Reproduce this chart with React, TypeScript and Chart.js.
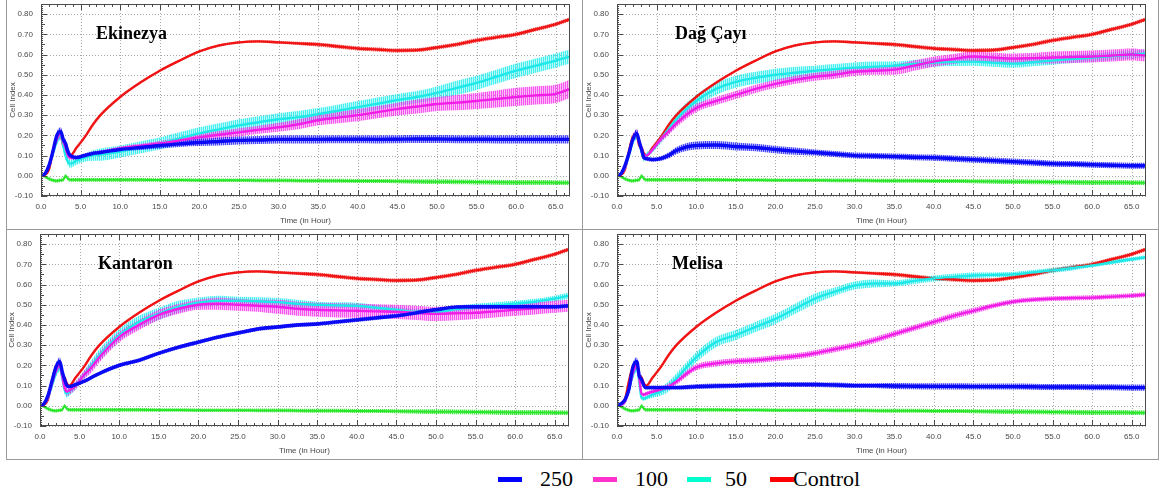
import React, { useEffect, useRef } from "react";
import { Chart, registerables } from "chart.js";

Chart.register(...registerables);

// ---------------- data ----------------
const TIME_H = [
  0, 0.5, 1, 1.5, 2,
  2.5, 2.8, 3.1, 3.4, 3.7,
  4.5, 5.5, 6.5, 7.5,
  10, 12.5, 15, 17.5, 20, 22.5, 25, 27.5, 30, 32.5,
  35, 37.5, 40, 42.5, 45, 47.5, 50, 52.5, 55, 57.5,
  60, 62.5, 65, 66.8,
];

const X_TICK_STEP = 5;
const Y_TICK_STEP = 0.1;

// Control (red) — same wells in every panel
const CONTROL = [
  0, 0.005, 0.03, 0.12, 0.19,
  0.2, 0.15, 0.14, 0.11, 0.1,
  0.14, 0.19, 0.25, 0.3,
  0.39, 0.46, 0.52, 0.57, 0.615, 0.645, 0.66, 0.665, 0.66, 0.655,
  0.65, 0.64, 0.63, 0.625, 0.62, 0.622, 0.635, 0.65, 0.67, 0.685,
  0.7, 0.725, 0.75, 0.775,
];
const CONTROL_ERR = [
  0, 0.003, 0.01, 0.02, 0.02,
  0.015, 0.01, 0.01, 0.008, 0.005,
  0.005, 0.005, 0.005, 0.005,
  0.005, 0.005, 0.005, 0.005, 0.005, 0.006, 0.006, 0.006, 0.007, 0.008,
  0.01, 0.01, 0.01, 0.01, 0.01, 0.01, 0.01, 0.01, 0.01, 0.01,
  0.01, 0.01, 0.01, 0.01,
];

// Medium only (green)
const MEDIUM = [
  0, -0.005, -0.015, -0.022, -0.025,
  -0.022, -0.02, 0, -0.015, -0.02,
  -0.02, -0.02, -0.02, -0.02,
  -0.02, -0.02, -0.021, -0.021, -0.022, -0.022, -0.022, -0.023, -0.023, -0.024,
  -0.025, -0.025, -0.026, -0.026, -0.027, -0.028, -0.029, -0.03, -0.031, -0.032,
  -0.033, -0.033, -0.034, -0.035,
];
const MEDIUM_ERR = [
  0, 0.005, 0.009, 0.009, 0.009,
  0.009, 0.009, 0.009, 0.009, 0.009,
  0.009, 0.009, 0.009, 0.009,
  0.009, 0.009, 0.009, 0.009, 0.009, 0.009, 0.009, 0.009, 0.009, 0.009,
  0.01, 0.01, 0.01, 0.01, 0.01, 0.011, 0.012, 0.012, 0.012, 0.012,
  0.012, 0.012, 0.012, 0.012,
];

// Ekinezya
const EKINEZYA_250 = [
  0, 0.01, 0.05, 0.12, 0.2,
  0.22, 0.18, 0.16, 0.12, 0.1,
  0.09, 0.1, 0.11, 0.115,
  0.13, 0.14, 0.15, 0.158, 0.165, 0.17, 0.175, 0.177, 0.18, 0.18,
  0.18, 0.181, 0.181, 0.18, 0.181, 0.182, 0.182, 0.181, 0.181, 0.18,
  0.18, 0.18, 0.18, 0.18,
];
const EKINEZYA_250_ERR = [
  0, 0.005, 0.01, 0.02, 0.02,
  0.02, 0.02, 0.02, 0.02, 0.015,
  0.01, 0.01, 0.01, 0.01,
  0.01, 0.012, 0.015, 0.015, 0.018, 0.02, 0.02, 0.02, 0.02, 0.02,
  0.02, 0.02, 0.02, 0.02, 0.02, 0.02, 0.02, 0.02, 0.02, 0.02,
  0.02, 0.02, 0.02, 0.02,
];
const EKINEZYA_100 = [
  0, 0.01, 0.05, 0.12, 0.18,
  0.21, 0.17, 0.14, 0.1, 0.09,
  0.09, 0.1, 0.11, 0.115,
  0.135, 0.148, 0.16, 0.175, 0.19, 0.203, 0.215, 0.228, 0.24, 0.255,
  0.275, 0.288, 0.3, 0.315, 0.33, 0.343, 0.355, 0.362, 0.37, 0.38,
  0.39, 0.398, 0.405, 0.43,
];
const EKINEZYA_100_ERR = [
  0, 0.005, 0.01, 0.02, 0.02,
  0.02, 0.02, 0.02, 0.015, 0.01,
  0.01, 0.01, 0.01, 0.01,
  0.01, 0.01, 0.012, 0.015, 0.015, 0.018, 0.02, 0.02, 0.022, 0.025,
  0.025, 0.028, 0.03, 0.03, 0.032, 0.035, 0.035, 0.038, 0.04, 0.042,
  0.045, 0.045, 0.045, 0.045,
];
const EKINEZYA_50 = [
  0, 0.01, 0.05, 0.11, 0.17,
  0.2, 0.15, 0.1, 0.07, 0.06,
  0.075, 0.09, 0.1, 0.105,
  0.12, 0.14, 0.16, 0.185, 0.21, 0.23, 0.25, 0.265, 0.28, 0.29,
  0.305, 0.322, 0.34, 0.357, 0.375, 0.39, 0.41, 0.435, 0.46, 0.49,
  0.52, 0.545, 0.57, 0.59,
];
const EKINEZYA_50_ERR = [
  0, 0.005, 0.01, 0.02, 0.02,
  0.02, 0.02, 0.02, 0.02, 0.02,
  0.02, 0.02, 0.025, 0.03,
  0.03, 0.03, 0.03, 0.03, 0.03, 0.03, 0.03, 0.03, 0.03, 0.03,
  0.03, 0.03, 0.03, 0.03, 0.03, 0.03, 0.032, 0.035, 0.035, 0.035,
  0.035, 0.035, 0.035, 0.035,
];

// Dağ Çayı
const DAG_250 = [
  0, 0.01, 0.05, 0.11, 0.18,
  0.21, 0.17, 0.13, 0.09, 0.085,
  0.08, 0.085, 0.1, 0.125,
  0.15, 0.152, 0.145, 0.14, 0.13, 0.122, 0.115, 0.108, 0.1, 0.098,
  0.095, 0.092, 0.09, 0.085, 0.08, 0.075, 0.07, 0.065, 0.06, 0.058,
  0.055, 0.052, 0.05, 0.05,
];
const DAG_250_ERR = [
  0, 0.005, 0.01, 0.02, 0.02,
  0.02, 0.02, 0.015, 0.01, 0.01,
  0.01, 0.012, 0.015, 0.018,
  0.02, 0.02, 0.02, 0.018, 0.018, 0.018, 0.015, 0.015, 0.015, 0.015,
  0.015, 0.015, 0.015, 0.015, 0.015, 0.015, 0.015, 0.015, 0.015, 0.015,
  0.015, 0.015, 0.015, 0.015,
];
const DAG_100 = [
  0, 0.01, 0.04, 0.11, 0.18,
  0.21, 0.17, 0.13, 0.1, 0.1,
  0.13, 0.18, 0.22, 0.26,
  0.335, 0.37, 0.4, 0.43, 0.455, 0.475, 0.49, 0.5, 0.515, 0.52,
  0.525, 0.545, 0.565, 0.578, 0.59, 0.585, 0.58, 0.582, 0.585, 0.588,
  0.59, 0.595, 0.6, 0.595,
];
const DAG_100_ERR = [
  0, 0.005, 0.01, 0.02, 0.02,
  0.02, 0.02, 0.02, 0.015, 0.01,
  0.01, 0.015, 0.02, 0.02,
  0.02, 0.02, 0.02, 0.02, 0.02, 0.02, 0.02, 0.02, 0.02, 0.02,
  0.025, 0.025, 0.025, 0.025, 0.025, 0.025, 0.025, 0.025, 0.03, 0.03,
  0.03, 0.03, 0.03, 0.03,
];
const DAG_50 = [
  0, 0.01, 0.04, 0.1, 0.17,
  0.2, 0.17, 0.12, 0.09, 0.1,
  0.13, 0.18, 0.23, 0.28,
  0.37, 0.43, 0.465, 0.485, 0.5, 0.51, 0.52, 0.528, 0.535, 0.54,
  0.545, 0.553, 0.56, 0.563, 0.565, 0.56, 0.555, 0.562, 0.57, 0.578,
  0.585, 0.592, 0.6, 0.605,
];
const DAG_50_ERR = [
  0, 0.005, 0.01, 0.02, 0.02,
  0.02, 0.02, 0.02, 0.02, 0.015,
  0.015, 0.02, 0.025, 0.03,
  0.03, 0.03, 0.03, 0.03, 0.03, 0.03, 0.025, 0.025, 0.025, 0.025,
  0.02, 0.02, 0.02, 0.02, 0.02, 0.02, 0.02, 0.02, 0.02, 0.02,
  0.02, 0.02, 0.02, 0.02,
];

// Kantaron
const KANTARON_250 = [
  0, 0.01, 0.05, 0.12, 0.19,
  0.22, 0.17, 0.13, 0.1, 0.095,
  0.105, 0.12, 0.14, 0.16,
  0.2, 0.225, 0.26, 0.29, 0.315, 0.34, 0.36, 0.38, 0.39, 0.4,
  0.405, 0.415, 0.425, 0.435, 0.445, 0.46, 0.475, 0.488, 0.49, 0.49,
  0.49, 0.49, 0.49, 0.495,
];
const KANTARON_250_ERR = [
  0, 0.005, 0.01, 0.02, 0.02,
  0.02, 0.02, 0.015, 0.01, 0.008,
  0.008, 0.008, 0.01, 0.01,
  0.01, 0.01, 0.01, 0.01, 0.01, 0.01, 0.01, 0.01, 0.01, 0.01,
  0.01, 0.01, 0.01, 0.01, 0.01, 0.01, 0.01, 0.01, 0.01, 0.01,
  0.01, 0.01, 0.01, 0.01,
];
const KANTARON_100 = [
  0, 0.01, 0.04, 0.11, 0.17,
  0.2, 0.15, 0.09, 0.07, 0.075,
  0.1, 0.15, 0.19, 0.24,
  0.34, 0.4, 0.45, 0.48, 0.5, 0.505, 0.5, 0.495, 0.49, 0.48,
  0.475, 0.472, 0.47, 0.467, 0.465, 0.46, 0.455, 0.458, 0.46, 0.467,
  0.475, 0.482, 0.49, 0.495,
];
const KANTARON_100_ERR = [
  0, 0.005, 0.01, 0.02, 0.02,
  0.02, 0.02, 0.02, 0.02, 0.02,
  0.02, 0.02, 0.025, 0.025,
  0.025, 0.025, 0.025, 0.025, 0.025, 0.03, 0.03, 0.03, 0.035, 0.035,
  0.035, 0.035, 0.035, 0.035, 0.035, 0.035, 0.035, 0.035, 0.03, 0.03,
  0.03, 0.03, 0.03, 0.03,
];
const KANTARON_50 = [
  0, 0.01, 0.04, 0.1, 0.16,
  0.19, 0.14, 0.08, 0.06, 0.07,
  0.1, 0.15, 0.2, 0.25,
  0.35, 0.415, 0.455, 0.49, 0.51, 0.52, 0.52, 0.517, 0.513, 0.505,
  0.5, 0.497, 0.495, 0.485, 0.475, 0.465, 0.465, 0.478, 0.49, 0.497,
  0.505, 0.515, 0.53, 0.545,
];
const KANTARON_50_ERR = [
  0, 0.005, 0.01, 0.02, 0.02,
  0.02, 0.02, 0.02, 0.02, 0.02,
  0.02, 0.02, 0.025, 0.03,
  0.03, 0.03, 0.03, 0.03, 0.025, 0.025, 0.02, 0.02, 0.02, 0.02,
  0.015, 0.015, 0.015, 0.015, 0.015, 0.015, 0.015, 0.015, 0.015, 0.015,
  0.015, 0.015, 0.015, 0.015,
];

// Melisa
const MELISA_250 = [
  0, 0.01, 0.03, 0.08, 0.19,
  0.22, 0.15, 0.13, 0.1, 0.09,
  0.09, 0.09, 0.09, 0.09,
  0.095, 0.098, 0.1, 0.103, 0.105, 0.105, 0.105, 0.103, 0.1, 0.1,
  0.098, 0.097, 0.096, 0.096, 0.095, 0.095, 0.095, 0.094, 0.093, 0.093,
  0.092, 0.092, 0.09, 0.09,
];
const MELISA_250_ERR = [
  0, 0.005, 0.01, 0.02, 0.02,
  0.02, 0.02, 0.02, 0.015, 0.01,
  0.01, 0.01, 0.01, 0.01,
  0.012, 0.012, 0.012, 0.012, 0.012, 0.012, 0.012, 0.012, 0.012, 0.012,
  0.015, 0.015, 0.015, 0.015, 0.015, 0.015, 0.015, 0.015, 0.015, 0.015,
  0.015, 0.015, 0.015, 0.015,
];
const MELISA_100 = [
  0, 0.005, 0.02, 0.08, 0.16,
  0.2, 0.14, 0.06, 0.055, 0.06,
  0.07, 0.08, 0.095, 0.12,
  0.19, 0.21, 0.22, 0.225, 0.235, 0.245, 0.26, 0.28, 0.3, 0.325,
  0.355, 0.385, 0.415, 0.445, 0.47, 0.495, 0.515, 0.525, 0.53, 0.533,
  0.535, 0.54, 0.545, 0.55,
];
const MELISA_100_ERR = [
  0, 0.005, 0.01, 0.02, 0.02,
  0.02, 0.02, 0.01, 0.01, 0.01,
  0.01, 0.012, 0.015, 0.015,
  0.015, 0.015, 0.015, 0.015, 0.015, 0.015, 0.015, 0.015, 0.015, 0.015,
  0.015, 0.015, 0.015, 0.015, 0.015, 0.012, 0.012, 0.012, 0.012, 0.012,
  0.012, 0.012, 0.012, 0.012,
];
const MELISA_50 = [
  0, 0.005, 0.02, 0.08, 0.15,
  0.19, 0.12, 0.04, 0.035, 0.04,
  0.055, 0.07, 0.095, 0.135,
  0.24, 0.315, 0.35, 0.39, 0.43, 0.48, 0.53, 0.565, 0.595, 0.605,
  0.605, 0.618, 0.63, 0.638, 0.645, 0.648, 0.65, 0.66, 0.67, 0.682,
  0.695, 0.71, 0.725, 0.735,
];
const MELISA_50_ERR = [
  0, 0.005, 0.01, 0.02, 0.02,
  0.02, 0.02, 0.01, 0.01, 0.01,
  0.015, 0.02, 0.025, 0.025,
  0.025, 0.025, 0.025, 0.025, 0.025, 0.025, 0.025, 0.02, 0.02, 0.02,
  0.015, 0.015, 0.015, 0.015, 0.015, 0.012, 0.012, 0.012, 0.012, 0.012,
  0.01, 0.01, 0.01, 0.01,
];

const PANEL_TITLES = ["Ekinezya", "Dağ Çayı", "Kantaron", "Melisa"];
const LEGEND_LABELS = ["250", "100", "50", "Control"];
const X_TITLE = "Time (in Hour)";
const Y_TITLE = "Cell Index";

const PANELS = [
  { title: PANEL_TITLES[0], d250: EKINEZYA_250, e250: EKINEZYA_250_ERR, d100: EKINEZYA_100, e100: EKINEZYA_100_ERR, d50: EKINEZYA_50, e50: EKINEZYA_50_ERR },
  { title: PANEL_TITLES[1], d250: DAG_250, e250: DAG_250_ERR, d100: DAG_100, e100: DAG_100_ERR, d50: DAG_50, e50: DAG_50_ERR },
  { title: PANEL_TITLES[2], d250: KANTARON_250, e250: KANTARON_250_ERR, d100: KANTARON_100, e100: KANTARON_100_ERR, d50: KANTARON_50, e50: KANTARON_50_ERR },
  { title: PANEL_TITLES[3], d250: MELISA_250, e250: MELISA_250_ERR, d100: MELISA_100, e100: MELISA_100_ERR, d50: MELISA_50, e50: MELISA_50_ERR },
];

// ---------------- styles / layout ----------------
const STYLE = {
  blue: { line: "#0a0af5", rgb: "20,20,255", width: 3.4, z: 1, bandZ: 21 },
  magenta: { line: "#f01ee6", rgb: "245,40,235", width: 2.4, z: 2, bandZ: 22 },
  cyan: { line: "#1ee8e8", rgb: "20,235,235", width: 2.4, z: 3, bandZ: 23 },
  red: { line: "#f01414", rgb: "240,20,20", width: 2.4, z: 4, bandZ: 24 },
  green: { line: "#28e628", rgb: "30,225,30", width: 2, z: 5, bandZ: 25 },
};
const LEGEND_COLORS = ["#0000ff", "#ff33cc", "#00ffcc", "#ff0000"];

const PLOT_W = 529;
const PLOT_H = 192;
const Y_AXIS_W = 36;
const X_AXIS_H = 32;
const PAD_TOP = 16;
const PAD_RIGHT = 4;
const CANVAS_W = Y_AXIS_W + PLOT_W + PAD_RIGHT;
const CANVAS_H = PAD_TOP + PLOT_H + X_AXIS_H;

const PANEL_LAYOUT = [
  { plotLeft: 41, plotTop: 4, titleDx: 55 },
  { plotLeft: 617, plotTop: 4, titleDx: 58 },
  { plotLeft: 40, plotTop: 234, titleDx: 58 },
  { plotLeft: 617, plotTop: 234, titleDx: 55 },
];

const LEGEND_LAYOUT = [
  { swatchX: 498, textX: 540 },
  { swatchX: 593, textX: 635 },
  { swatchX: 687, textX: 725 },
  { swatchX: 770, textX: 793 },
];

const AXIS_COLOR = "#4a4a4a";
const GRID_COLOR = "#a8a8a8";
const FRAME_COLOR = "#4a4a4a";
const SANS = '"Liberation Sans", Arial, sans-serif';

function hatch(ctx: CanvasRenderingContext2D, rgb: string) {
  const c = document.createElement("canvas");
  c.width = 2;
  c.height = 4;
  const g = c.getContext("2d")!;
  g.fillStyle = `rgba(${rgb},0.8)`;
  g.fillRect(0, 0, 1, 4);
  g.fillStyle = `rgba(${rgb},0.3)`;
  g.fillRect(1, 0, 1, 4);
  return ctx.createPattern(c, "repeat")!;
}

function makeDecor(title: string, titleDx: number) {
  return {
    id: "decor",
    beforeDatasetsDraw(chart: any) {
      const { ctx, chartArea: a } = chart;
      const xs = chart.scales.x;
      const ys = chart.scales.y;
      ctx.save();
      ctx.strokeStyle = GRID_COLOR;
      ctx.lineWidth = 1;
      ctx.setLineDash([1, 2]);
      ctx.beginPath();
      for (const t of xs.ticks) {
        const p = Math.round(xs.getPixelForValue(t.value)) + 0.5;
        ctx.moveTo(p, a.top);
        ctx.lineTo(p, a.bottom);
      }
      for (const t of ys.ticks) {
        const p = Math.round(ys.getPixelForValue(t.value)) + 0.5;
        ctx.moveTo(a.left, p);
        ctx.lineTo(a.right, p);
      }
      ctx.stroke();
      ctx.restore();
    },
    afterDatasetsDraw(chart: any) {
      const { ctx, chartArea: a } = chart;
      const xs = chart.scales.x;
      const ys = chart.scales.y;
      ctx.save();
      ctx.strokeStyle = FRAME_COLOR;
      ctx.lineWidth = 1;
      ctx.beginPath();
      for (let h = Math.ceil(xs.min); h <= xs.max; h++) {
        const p = Math.round(xs.getPixelForValue(h)) + 0.5;
        const len = h % X_TICK_STEP === 0 ? 6 : 3;
        ctx.moveTo(p, a.bottom);
        ctx.lineTo(p, a.bottom - len);
        ctx.moveTo(p, a.top);
        ctx.lineTo(p, a.top + len);
      }
      const k0 = Math.ceil(ys.min * 100 - 1e-6);
      const k1 = Math.floor(ys.max * 100 + 1e-6);
      for (let k = k0; k <= k1; k++) {
        const p = Math.round(ys.getPixelForValue(k / 100)) + 0.5;
        const len = k % 10 === 0 ? 6 : k % 5 === 0 ? 4 : 2;
        ctx.moveTo(a.left, p);
        ctx.lineTo(a.left + len, p);
      }
      ctx.stroke();
      ctx.strokeRect(Math.round(a.left) + 0.5, Math.round(a.top) + 0.5, Math.round(a.width) - 1, Math.round(a.height) - 1);
      ctx.fillStyle = "#000";
      ctx.font = 'bold 18px "Liberation Serif", "Times New Roman", serif';
      ctx.textBaseline = "alphabetic";
      ctx.textAlign = "left";
      ctx.fillText(title, a.left + titleDx, a.top + 35);
      ctx.restore();
    },
  };
}

function buildConfig(panel: any, layout: any, ctx: CanvasRenderingContext2D) {
  const series = [
    { values: MEDIUM, errors: MEDIUM_ERR, s: STYLE.green, label: "Medium" },
    { values: CONTROL, errors: CONTROL_ERR, s: STYLE.red, label: LEGEND_LABELS[3] },
    { values: panel.d50, errors: panel.e50, s: STYLE.cyan, label: LEGEND_LABELS[2] },
    { values: panel.d100, errors: panel.e100, s: STYLE.magenta, label: LEGEND_LABELS[1] },
    { values: panel.d250, errors: panel.e250, s: STYLE.blue, label: LEGEND_LABELS[0] },
  ];
  const datasets: any[] = [];
  for (const sr of series) {
    datasets.push({
      label: sr.label + " +sd",
      data: TIME_H.map((t, i) => ({ x: t, y: sr.values[i] + sr.errors[i] })),
      borderWidth: 0,
      borderColor: "rgba(0,0,0,0)",
      pointRadius: 0,
      fill: false,
      cubicInterpolationMode: "monotone",
      order: sr.s.bandZ,
    });
    datasets.push({
      label: sr.label + " -sd",
      data: TIME_H.map((t, i) => ({ x: t, y: sr.values[i] - sr.errors[i] })),
      borderWidth: 0,
      borderColor: "rgba(0,0,0,0)",
      backgroundColor: hatch(ctx, sr.s.rgb),
      pointRadius: 0,
      fill: "-1",
      cubicInterpolationMode: "monotone",
      order: sr.s.bandZ,
    });
  }
  for (const sr of series) {
    datasets.push({
      label: sr.label,
      data: TIME_H.map((t, i) => ({ x: t, y: sr.values[i] })),
      borderColor: sr.s.line,
      borderWidth: sr.s.width,
      pointRadius: 0,
      fill: false,
      cubicInterpolationMode: "monotone",
      order: sr.s.z,
    });
  }

  return {
    type: "line" as const,
    data: { datasets },
    options: {
      animation: false as const,
      responsive: false,
      maintainAspectRatio: false,
      events: [],
      layout: { padding: { left: 0, top: PAD_TOP, right: PAD_RIGHT, bottom: 0 } },
      plugins: {
        legend: { display: false },
        tooltip: { enabled: false },
        title: { display: false },
        filler: { propagate: false },
      },
      scales: {
        x: {
          type: "linear" as const,
          min: 0,
          max: TIME_H[TIME_H.length - 1],
          grid: { display: false, drawTicks: false },
          border: { display: false },
          ticks: {
            stepSize: X_TICK_STEP,
            includeBounds: false,
            autoSkip: false,
            maxRotation: 0,
            padding: 6,
            color: AXIS_COLOR,
            font: { family: SANS, size: 8 },
            callback: (v: any) => Number(v).toFixed(1),
          },
          title: {
            display: true,
            text: X_TITLE,
            color: AXIS_COLOR,
            font: { family: SANS, size: 8 },
            padding: { top: 0, bottom: 2 },
          },
          afterFit: (s: any) => {
            s.height = X_AXIS_H;
          },
        },
        y: {
          type: "linear" as const,
          min: -0.1,
          max: 0.85,
          grid: { display: false, drawTicks: false },
          border: { display: false },
          ticks: {
            stepSize: Y_TICK_STEP,
            includeBounds: false,
            padding: 8,
            color: AXIS_COLOR,
            font: { family: SANS, size: 8 },
            callback: (v: any) => Number(v).toFixed(2),
          },
          title: {
            display: true,
            text: Y_TITLE,
            color: AXIS_COLOR,
            font: { family: SANS, size: 8 },
            padding: { top: 3, bottom: 0 },
          },
          afterFit: (s: any) => {
            s.width = Y_AXIS_W;
          },
        },
      },
    },
    plugins: [makeDecor(panel.title, layout.titleDx)],
  };
}

function Panel({ panel, layout }: { panel: any; layout: any }) {
  const ref = useRef<HTMLCanvasElement>(null);
  useEffect(() => {
    const canvas = ref.current!;
    const ctx = canvas.getContext("2d")!;
    const chart = new Chart(ctx, buildConfig(panel, layout, ctx) as any);
    return () => chart.destroy();
  }, []);
  return (
    <canvas
      ref={ref}
      width={CANVAS_W}
      height={CANVAS_H}
      style={{
        position: "absolute",
        left: layout.plotLeft - Y_AXIS_W,
        top: layout.plotTop - PAD_TOP,
        width: CANVAS_W,
        height: CANVAS_H,
      }}
    />
  );
}

const LINE_COLOR = "#9a9a9a";

export default function App() {
  const rules = [
    { left: 6, top: 0, width: 1, height: 460 },
    { left: 582, top: 0, width: 1, height: 460 },
    { left: 1158, top: 0, width: 1, height: 460 },
    { left: 6, top: 229, width: 1153, height: 1 },
    { left: 6, top: 459, width: 1153, height: 1 },
  ];
  return (
    <div
      style={{
        position: "absolute",
        left: 0,
        top: 0,
        width: 1168,
        height: 497,
        background: "#fff",
        overflow: "hidden",
      }}
    >
      {rules.map((r, i) => (
        <div key={"r" + i} style={{ position: "absolute", background: LINE_COLOR, ...r }} />
      ))}
      {PANELS.map((p, i) => (
        <Panel key={p.title} panel={p} layout={PANEL_LAYOUT[i]} />
      ))}
      {LEGEND_LABELS.map((lab, i) => (
        <React.Fragment key={lab}>
          <div
            style={{
              position: "absolute",
              left: LEGEND_LAYOUT[i].swatchX,
              top: 477,
              width: 24,
              height: 5,
              background: LEGEND_COLORS[i],
            }}
          />
          <span
            style={{
              position: "absolute",
              left: LEGEND_LAYOUT[i].textX,
              top: 468,
              fontFamily: '"Liberation Serif", "Times New Roman", serif',
              fontSize: 22,
              lineHeight: "22px",
              color: "#000",
              whiteSpace: "nowrap",
            }}
          >
            {lab}
          </span>
        </React.Fragment>
      ))}
    </div>
  );
}
